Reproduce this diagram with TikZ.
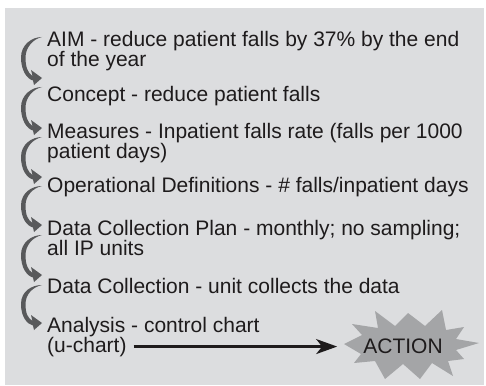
\documentclass[tikz,border=0pt]{standalone}
\usepackage{fontspec}
\setmainfont{Liberation Sans}
\usetikzlibrary{arrows.meta,calc}
\definecolor{panel}{RGB}{220,221,223}
\definecolor{ink}{RGB}{30,27,28}
\definecolor{swooshgray}{RGB}{88,89,91}
\definecolor{burst}{RGB}{164,165,167}
\tikzset{
  textline/.style={anchor=base west, inner sep=0pt, text=ink,
    font=\fontsize{21}{20}\selectfont},
  % tapered curved arrow that bulges to the left and ends in a head pointing right
  swoosh/.style={to path={
    .. controls ($(\tikztostart)+(-10,0)$) and ($(\tikztostart)!0.5!(\tikztotarget)+(-21,-13)$)
    .. ($(\tikztostart)!0.5!(\tikztotarget)+(-21,0)$)
    .. controls ($(\tikztostart)!0.5!(\tikztotarget)+(-21,13)$) and ($(\tikztotarget)+(-15,1)$)
    .. ($(\tikztotarget)+(-9,2.5)$)
    -- ($(\tikztotarget)+(-8,7)$) -- (\tikztotarget) -- ($(\tikztotarget)+(-11,-8)$)
    -- ($(\tikztotarget)+(-9.5,-2)$)
    .. controls ($(\tikztotarget)+(-14,-5)$) and ($(\tikztostart)!0.5!(\tikztotarget)+(-16.5,10)$)
    .. ($(\tikztostart)!0.5!(\tikztotarget)+(-16.5,0)$)
    .. controls ($(\tikztostart)!0.5!(\tikztotarget)+(-16.5,-10)$) and ($(\tikztostart)+(-9,2)$)
    .. (\tikztostart)
  }},
  swooshfill/.style={fill=swooshgray},
  arrowline/.style={draw=ink, line width=2.3pt, -{Stealth[length=21pt,width=15pt,inset=6pt]}},
}
\begin{document}
\begin{tikzpicture}[x=1pt,y=-1pt]
\useasboundingbox (0,0) rectangle (486,385);
\fill[panel] (5,8) rectangle (484,385);

% starburst behind the ACTION label
\fill[burst] (344,344) -- (362,335) -- (352,324) -- (378,328) -- (375,311) -- (395,326)
  -- (408,313) -- (425,326) -- (442,310) -- (446,330) -- (464,327) -- (456,339)
  -- (479,343) -- (456,350) -- (464,359) -- (448,361) -- (453,376) -- (432,363)
  -- (420,379) -- (403,364) -- (385,379) -- (375,361) -- (354,363) -- (361,354) -- cycle;

% steps
\node[textline] (aim)       at (47,47)  {AIM - reduce patient falls by 37\% by the end};
\node[textline] (aimb)      at (47,67)  {of the year};
\node[textline] (concept)   at (47,102) {Concept - reduce patient falls};
\node[textline] (measures)  at (47,138) {Measures - Inpatient falls rate (falls per 1000};
\node[textline] (measuresb) at (47,158) {patient days)};
\node[textline] (opdef)     at (47,192) {Operational Definitions - \# falls/inpatient days};
\node[textline] (plan)      at (47,235) {Data Collection Plan - monthly; no sampling;};
\node[textline] (planb)     at (47,255) {all IP units};
\node[textline] (collect)   at (47,293) {Data Collection - unit collects the data};
\node[textline] (analysis)  at (47,332) {Analysis - control chart};
\node[textline] (analysisb) at (47,352) {(u-chart)};
\node[textline, anchor=base, inner xsep=26pt] (action) at (403,353) {ACTION};

% ends of the curved arrows
\coordinate (s1) at ([shift={(-5,-10)}]aim.base west);
\coordinate (t1) at ([shift={(-5,-24)}]concept.base west);
\coordinate (s2) at ([shift={(-5,-15)}]concept.base west);
\coordinate (t2) at ([shift={(-5,-10)}]measures.base west);
\coordinate (s3) at ([shift={(-5,-1)}]measures.base west);
\coordinate (t3) at ([shift={(-5,-15)}]opdef.base west);
\coordinate (s4) at ([shift={(-5,-6)}]opdef.base west);
\coordinate (t4) at ([shift={(-5,-10)}]plan.base west);
\coordinate (s5) at ([shift={(-5,0)}]plan.base west);
\coordinate (t5) at ([shift={(-5,-18)}]collect.base west);
\coordinate (s6) at ([shift={(-5,-8)}]collect.base west);
\coordinate (t6) at ([shift={(-5,-9)}]analysis.base west);

\fill[swooshfill] (s1) to[swoosh] (t1);
\fill[swooshfill] (s2) to[swoosh] (t2);
\fill[swooshfill] (s3) to[swoosh] (t3);
\fill[swooshfill] (s4) to[swoosh] (t4);
\fill[swooshfill] (s5) to[swoosh] (t5);
\fill[swooshfill] (s6) to[swoosh] (t6);

\draw[arrowline] ([xshift=7pt]analysisb.east) -- (analysisb.east -| action.west);
\end{tikzpicture}
\end{document}
